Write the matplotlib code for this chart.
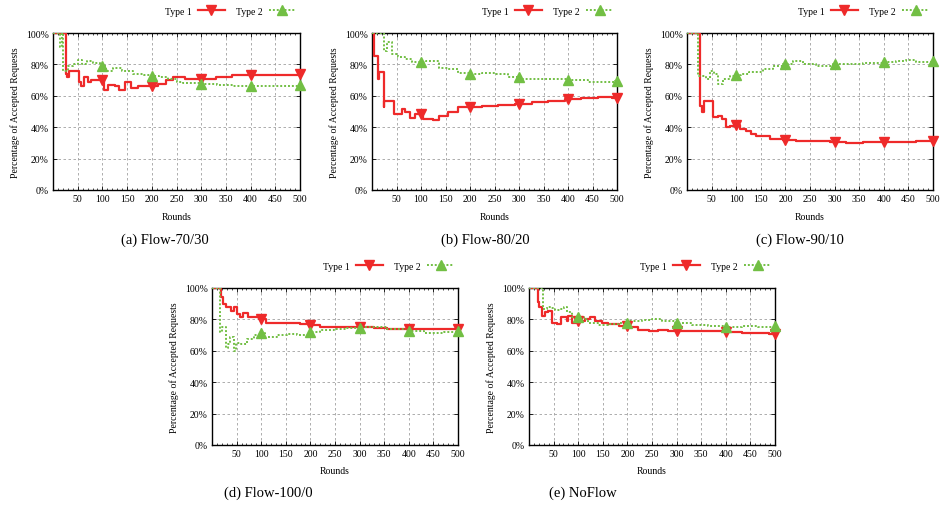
import numpy as np
import matplotlib
matplotlib.use("Agg")
import matplotlib.pyplot as plt
from matplotlib.ticker import MultipleLocator, FixedLocator

plt.rcParams['font.family'] = ['Liberation Serif', 'DejaVu Serif']

# data (rounds, % accepted)
a_x1 = [0, 26, 28, 33, 52, 57, 62, 70, 76, 90, 103, 112, 125, 133, 146, 158, 172, 195, 212, 228, 242, 268, 295, 330, 362, 430, 500]
a_y1 = [100, 74, 72, 76, 69, 66, 72, 69, 70, 70, 64, 67, 66, 64, 68.5, 65, 66, 66, 67.5, 70, 72, 71, 71, 72, 73, 73.5, 73.7]
a_x2 = [0, 15, 18, 21, 30, 40, 51, 58, 68, 80, 95, 108, 122, 140, 162, 185, 200, 215, 232, 250, 263, 297, 331, 365, 400, 432, 466, 500]
a_y2 = [100, 91, 100, 76, 79, 80, 83, 80, 82, 81, 79, 76, 77.5, 76, 74, 73, 72.4, 72, 71, 69, 68, 67.5, 67, 66, 66.5, 66.5, 66.5, 67]

b_x1 = [0, 5, 12, 14, 24, 25, 45, 61, 68, 78, 88, 102, 105, 125, 136, 156, 176, 197, 224, 258, 292, 326, 360, 394, 427, 461, 490, 500]
b_y1 = [100, 85.5, 70.7, 75, 52.7, 57, 48.4, 51.6, 49.5, 46, 48.4, 47, 45, 44.6, 47, 49.5, 52.6, 52.6, 53.7, 54, 54.8, 55.8, 56.9, 58, 58.4, 59, 58.6, 58.6]
b_x2 = [0, 24, 31, 41, 54, 68, 81, 98, 110, 119, 136, 156, 176, 197, 224, 251, 278, 305, 360, 400, 441, 468, 495, 500]
b_y2 = [100, 88.7, 94, 86.6, 84.5, 83.4, 81.3, 81.3, 82.4, 82.4, 78, 77, 74.5, 74, 74.5, 74, 72, 70.7, 70.7, 70, 69, 68.6, 69.6, 69.6]

c_x1 = [0, 26, 31, 34, 38, 52, 63, 72, 80, 87, 100, 107, 120, 131, 141, 168, 195, 222, 256, 290, 324, 358, 391, 466, 500]
c_y1 = [100, 53.7, 49.5, 57, 56.5, 46.5, 47.3, 45, 40, 41, 41.4, 38.9, 37.8, 35.7, 34.6, 32.5, 32, 31.4, 31.4, 30.4, 30, 30.4, 30.8, 31.2, 31.4]
c_x2 = [0, 23, 38, 46, 55, 63, 73, 87, 100, 110, 127, 154, 175, 195, 215, 236, 263, 297, 330, 358, 398, 425, 446, 466, 500]
c_y2 = [100, 72.8, 70.7, 76, 74, 67.5, 70.7, 72.8, 73, 74, 75, 77, 79, 80, 82, 80, 79, 80, 80, 81, 81.7, 82.4, 82.8, 81.7, 82]

d_x1 = [0, 18, 22, 28, 38, 44, 50, 56, 64, 74, 95, 110, 130, 150, 178, 200, 220, 247, 301, 329, 356, 396, 437, 471, 500]
d_y1 = [100, 94, 90, 87.7, 85.6, 87.7, 83.4, 81.3, 84, 81.3, 80, 78, 77.5, 78, 77, 76.6, 75, 75.4, 75.4, 74.5, 73.7, 74, 74, 73.7, 73.7]
d_x2 = [0, 16, 20, 29, 33, 37, 44, 49, 58, 71, 85, 98, 108, 132, 152, 173, 200, 220, 247, 274, 301, 329, 356, 396, 430, 471, 500]
d_y2 = [100, 71.8, 75, 62, 64.5, 69, 60, 65, 64.5, 67.5, 70, 71.5, 69, 70, 70.7, 70, 71.8, 73, 74, 74.5, 75.4, 75.4, 73.9, 72.8, 71.3, 71.8, 72.4]

e_x1 = [0, 18, 21, 26, 32, 39, 47, 56, 66, 77, 80, 87, 100, 114, 124, 134, 148, 161, 182, 202, 222, 243, 263, 283, 310, 398, 432, 466, 487, 500]
e_y1 = [100, 91, 87.7, 82.4, 84.5, 85.6, 78, 77, 81.3, 79, 82.4, 78, 79, 80, 81.3, 79, 78, 77, 76, 75, 73.2, 72.4, 73.2, 72.8, 72.4, 71.8, 71.5, 71.3, 70.7, 71]
e_x2 = [0, 29, 36, 42, 53, 63, 72, 78, 88, 112, 120, 141, 161, 182, 202, 229, 250, 270, 297, 331, 364, 398, 432, 466, 500]
e_y2 = [100, 86.6, 88, 87.3, 86, 86.6, 88, 84.5, 81.3, 80, 78, 76.6, 77, 78, 79, 79.6, 80, 79, 78, 76.6, 76, 75.4, 76, 75.4, 76]

panels = [
    ("(a) Flow-70/30", a_x1, a_y1, a_x2, a_y2),
    ("(b) Flow-80/20", b_x1, b_y1, b_x2, b_y2),
    ("(c) Flow-90/10", c_x1, c_y1, c_x2, c_y2),
    ("(d) Flow-100/0", d_x1, d_y1, d_x2, d_y2),
    ("(e) NoFlow", e_x1, e_y1, e_x2, e_y2),
]
mark_x = [100, 200, 300, 400, 500]

W, H = 941, 506
# axes boxes in pixels: left, top, right, bottom
boxes = [(53, 34, 300, 191), (372, 34, 617, 191), (687, 34, 933, 191),
         (212, 289, 458, 446), (529, 289, 775, 446)]
captions_xy = [(165, 240), (485, 240), (800, 240), (268, 493), (583, 493)]

RED = '#ee2a2a'
GREEN = '#72bf44'

fig = plt.figure(figsize=(W / 100, H / 100), dpi=100)


def step_at(xs, ys, m):
    i = np.searchsorted(xs, m, side='right') - 1
    return ys[i]


for (cap, x1, y1, x2, y2), (l, t, r, b), (cx, cy) in zip(panels, boxes, captions_xy):
    ax = fig.add_axes([l / W, 1 - b / H, (r - l) / W, (b - t) / H])
    x1, y1, x2, y2 = map(np.asarray, (x1, y1, x2, y2))
    ax.plot(x1, y1, drawstyle='steps-post', color=RED, lw=1.6, zorder=3)
    ax.plot(x2, y2, drawstyle='steps-post', color=GREEN, lw=1.4, ls=(0, (1, 1)), zorder=3)
    ax.plot(mark_x, [step_at(x1, y1, m) for m in mark_x], 'v', color=RED, ms=7, zorder=4, clip_on=False)
    ax.plot(mark_x, [step_at(x2, y2, m) for m in mark_x], '^', color=GREEN, ms=7, zorder=4, clip_on=False)

    ax.set_xlim(0, 500)
    ax.set_ylim(0, 100)
    ax.xaxis.set_major_locator(FixedLocator(list(range(50, 501, 50))))
    ax.xaxis.set_minor_locator(MultipleLocator(10))
    ax.yaxis.set_major_locator(MultipleLocator(20))
    ax.set_yticklabels([f"{int(v)}%" for v in ax.get_yticks()])
    ax.tick_params(which='both', direction='in', top=True, right=True, labelsize=7, pad=3)
    ax.tick_params(which='major', length=3, width=0.6)
    ax.tick_params(which='minor', length=1.5, width=0.5)
    ax.grid(True, which='major', ls=(0, (3, 3)), color='#a0a0a0', lw=0.6)
    for s in ax.spines.values():
        s.set_linewidth(1.0)
    ax.set_xlabel("Rounds", fontsize=7, labelpad=6)
    ax.set_ylabel("Percentage of Accepted Requests", fontsize=7, labelpad=4)

    h1, = ax.plot([], [], color=RED, lw=1.6, marker='v', ms=7)
    h2, = ax.plot([], [], color=GREEN, lw=1.4, ls=(0, (1, 1)), marker='^', ms=7)
    ax.legend([h1, h2], ["Type 1", "Type 2"], loc='center right', bbox_to_anchor=(1.0, 1.14),
              ncol=2, frameon=False, fontsize=7, markerfirst=False, handlelength=2.8,
              columnspacing=1.2, handletextpad=0.6, borderaxespad=0, numpoints=1)

    fig.text(cx / W, 1 - cy / H, cap, ha='center', va='center', fontsize=10.5)

fig.savefig("out.png", dpi=100)
